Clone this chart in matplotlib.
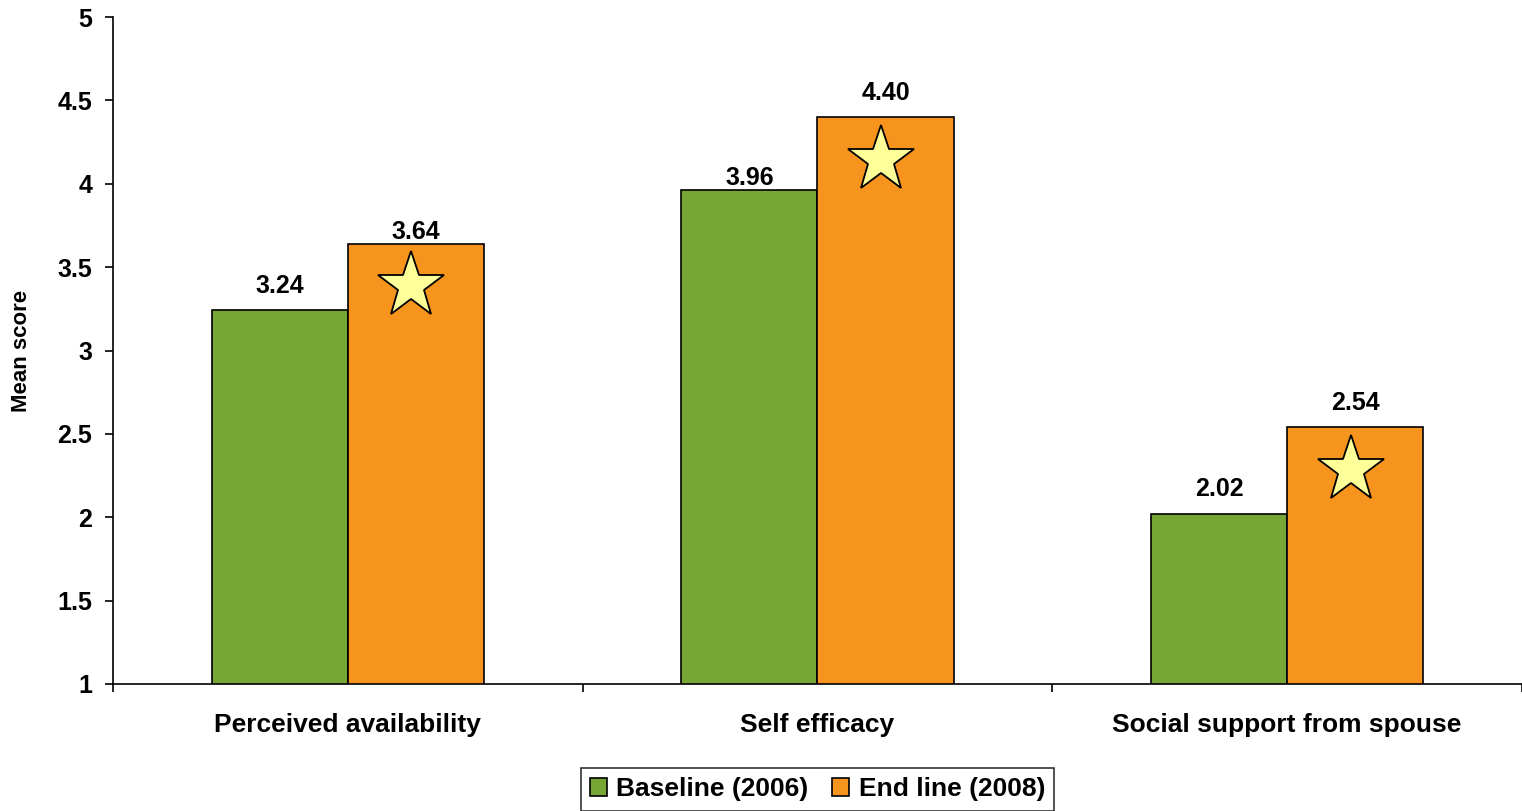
import numpy as np
import matplotlib.pyplot as plt

plt.rcParams["font.family"] = ["Liberation Sans", "DejaVu Sans"]
plt.rcParams["font.weight"] = "bold"

# ── data ─────────────────────────────────────────────────────────────
categories = ["Perceived availability", "Self efficacy", "Social support from spouse"]
baseline = [3.24, 3.96, 2.02]
endline = [3.64, 4.40, 2.54]
series_names = ["Baseline (2006)", "End line (2008)"]
yticks = [1, 1.5, 2, 2.5, 3, 3.5, 4, 4.5, 5]

GREEN = "#76A734"
ORANGE = "#F7941E"
STAR = "#FFFF99"

# label offsets (points above bar top) – two labels sit tighter to their bars
label_pad = {"baseline": [9, 0, 9], "endline": [0, 9, 9]}

fig = plt.figure(figsize=(15.22, 8.11), dpi=100)
ax = fig.add_axes([0.0742, 0.1566, 0.9258, 0.8224])

x = np.arange(len(categories))
w = 0.29
b1 = ax.bar(x - w / 2, baseline, w, bottom=0, color=GREEN, edgecolor="black",
            linewidth=1.2, label=series_names[0], zorder=2)
b2 = ax.bar(x + w / 2, endline, w, bottom=0, color=ORANGE, edgecolor="black",
            linewidth=1.2, label=series_names[1], zorder=2)

# value labels above each bar
for bars, vals, pads in ((b1, baseline, label_pad["baseline"]),
                         (b2, endline, label_pad["endline"])):
    for rect, v, p in zip(bars, vals, pads):
        ax.annotate(f"{v:.2f}", (rect.get_x() + rect.get_width() / 2, v),
                    xytext=(0, p), textcoords="offset points",
                    ha="center", va="bottom", fontsize=18, fontweight="bold")

# significance stars inside the end-line bars
ax.plot(x + w / 2 - 0.01, np.array(endline) - 0.255, ls="none", marker="*",
        markersize=50, markerfacecolor=STAR, markeredgecolor="black",
        markeredgewidth=1.3, zorder=3)

ax.set_ylim(1, 5)
ax.set_xlim(-0.5, 2.5)
ax.set_yticks(yticks, [f"{t:g}" for t in yticks], fontsize=18, fontweight="bold")
ax.set_xticks([-0.5, 0.5, 1.5, 2.5], [])
ax.set_xticks(x, categories, minor=True, fontsize=19, fontweight="bold")
ax.tick_params(axis="x", which="minor", length=0, pad=21)
ax.tick_params(axis="both", which="major", length=6, width=1.2, direction="out")
ax.tick_params(axis="y", pad=9)
ax.set_ylabel("Mean score", fontsize=16, fontweight="bold", labelpad=18)

for s in ("top", "right"):
    ax.spines[s].set_visible(False)
for s in ("left", "bottom"):
    ax.spines[s].set_linewidth(1.2)

leg = ax.legend(loc="lower center", bbox_to_anchor=(0.5, -0.19), ncol=2,
                fontsize=19, frameon=True, fancybox=False, edgecolor="black",
                handlelength=0.65, handleheight=0.65, handletextpad=0.35,
                columnspacing=0.9, borderpad=0.35, borderaxespad=0)
leg.get_frame().set_linewidth(1.2)
for t in leg.get_texts():
    t.set_fontweight("bold")

fig.savefig("out.png", dpi=100, facecolor="white")
